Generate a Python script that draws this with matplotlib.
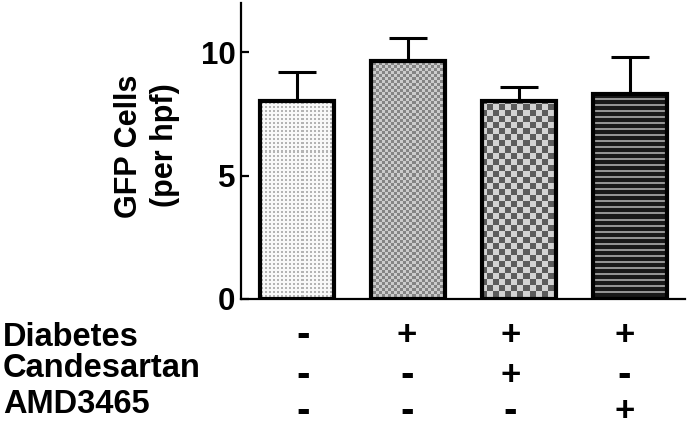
import numpy as np
import matplotlib
matplotlib.use('Agg')
import matplotlib.pyplot as plt
from matplotlib.transforms import blended_transform_factory

# ---- data ----
means = [8.0, 9.65, 8.0, 8.3]
errors = [1.2, 0.92, 0.58, 1.5]
row_labels = ['Diabetes', 'Candesartan', 'AMD3465']
signs = [['-', '+', '+', '+'],
         ['-', '-', '+', '-'],
         ['-', '-', '-', '+']]
yticks = [0, 5, 10]
ylabel_lines = ['GFP Cells', '(per hpf)']

plt.rcParams['font.family'] = ['Liberation Sans', 'DejaVu Sans']
plt.rcParams['font.weight'] = 'bold'

FW, FH = 688, 429
fig = plt.figure(figsize=(FW / 100, FH / 100), dpi=100)
left, right = 241 / FW, 685 / FW
bottom = 1 - 299 / FH
top = bottom + 12 * 24.7 / FH
ax = fig.add_axes([left, bottom, right - left, top - bottom])

x = np.arange(len(means))
xlim = (-0.505, 3.495)
ylim = (0, 12)

bars = ax.bar(x, means, width=0.667, facecolor='none', edgecolor='black',
              linewidth=3.0, zorder=3)
ax.errorbar(x, means, yerr=[np.zeros(len(means)), errors], fmt='none',
            ecolor='black', elinewidth=2.2, capsize=14, capthick=2.2, zorder=2)

# fill patterns (pixel grid of the axes)
W = int(round(FW * (right - left)))
H = int(round(FH * (top - bottom)))
rr, cc = np.mgrid[0:H, 0:W]
p1 = np.where(((rr % 4) < 2) & ((cc % 4) < 2), 0.70, 0.97)
p2 = np.where(((rr // 3) + (cc // 3)) % 2 == 0, 0.52, 0.80)
p3 = np.where(((rr // 6) + (cc // 6)) % 2 == 0, 0.36, 0.83)
p4 = np.where((rr % 6) < 2, 0.58, 0.10)
patterns = [p1, p2, p3, p4]
for bar, pat in zip(bars, patterns):
    im = ax.imshow(pat, cmap='gray', vmin=0, vmax=1,
                   extent=(xlim[0], xlim[1], ylim[0], ylim[1]),
                   aspect='auto', interpolation='nearest', zorder=1)
    im.set_clip_path(bar)

ax.set_xlim(*xlim)
ax.set_ylim(*ylim)
ax.set_yticks(yticks)
ax.set_xticks([])
for s in ['top', 'right']:
    ax.spines[s].set_visible(False)
for s in ['left', 'bottom']:
    ax.spines[s].set_linewidth(1.6)
ax.tick_params(axis='y', direction='in', length=6, width=1.6,
               labelsize=22.5, pad=4)
for lab in ax.get_yticklabels():
    lab.set_fontweight('bold')

# y label (two rotated lines)
fig.text(129 / FW, 1 - 146 / FH, ylabel_lines[0], rotation=90,
         ha='center', va='center', fontsize=22, fontweight='bold')
fig.text(165 / FW, 1 - 145 / FH, ylabel_lines[1], rotation=90,
         ha='center', va='center', fontsize=22, fontweight='bold')

# condition table below the axis
label_base = [346, 377, 413]
sign_base = [345.5, 385.5, 421.5]
sign_x = [0.054, 0.99, 1.92, 2.95]
trans = blended_transform_factory(ax.transData, fig.transFigure)
for i, lab in enumerate(row_labels):
    fig.text(3 / FW, 1 - label_base[i] / FH, lab, ha='left', va='baseline',
             fontsize=23.5, fontweight='bold')
    for j, s in enumerate(signs[i]):
        ax.text(sign_x[j], 1 - sign_base[i] / FH, s, transform=trans,
                ha='center', va='baseline',
                fontsize=(29 if s == '-' else 25),
                fontweight='bold', clip_on=False)

fig.savefig('out.png', dpi=100)
